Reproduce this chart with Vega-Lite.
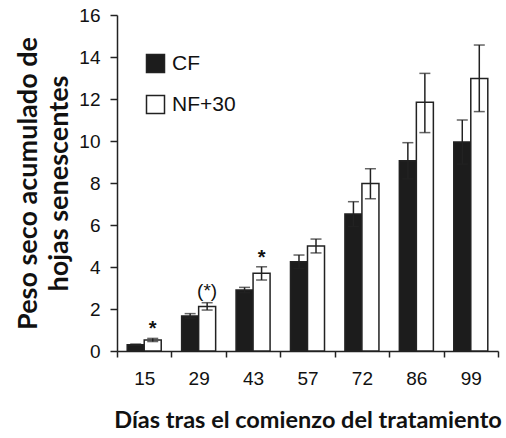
{
  "$schema": "https://vega.github.io/schema/vega-lite/v6.json",
  "width": 381,
  "height": 336,
  "autosize": {"type": "none"},
  "padding": {"left": 117, "top": 15, "right": 8, "bottom": 87},
  "background": "white",
  "config": {
    "view": {"stroke": null},
    "font": "Liberation Sans",
    "axis": {
      "domainColor": "#222",
      "domainWidth": 1.5,
      "tickColor": "#222",
      "tickWidth": 1.5,
      "labelColor": "#111",
      "labelFont": "Liberation Sans",
      "labelFontSize": 19,
      "titleFont": "Lato",
      "titleFontWeight": "bold",
      "titleFontSize": 24,
      "titleColor": "#111",
      "grid": false
    }
  },
  "data": {
    "values": [
      {"day": 15, "group": "CF", "mean": 0.3, "lo": 0.27, "hi": 0.33, "sig": ""},
      {"day": 15, "group": "NF+30", "mean": 0.52, "lo": 0.45, "hi": 0.6, "sig": "*"},
      {"day": 29, "group": "CF", "mean": 1.67, "lo": 1.56, "hi": 1.78, "sig": ""},
      {"day": 29, "group": "NF+30", "mean": 2.12, "lo": 1.95, "hi": 2.3, "sig": "(*)"},
      {"day": 43, "group": "CF", "mean": 2.9, "lo": 2.77, "hi": 3.03, "sig": ""},
      {"day": 43, "group": "NF+30", "mean": 3.7, "lo": 3.38, "hi": 4.01, "sig": "*"},
      {"day": 57, "group": "CF", "mean": 4.25, "lo": 3.93, "hi": 4.57, "sig": ""},
      {"day": 57, "group": "NF+30", "mean": 5.0, "lo": 4.67, "hi": 5.33, "sig": ""},
      {"day": 72, "group": "CF", "mean": 6.52, "lo": 5.93, "hi": 7.11, "sig": ""},
      {"day": 72, "group": "NF+30", "mean": 7.98, "lo": 7.25, "hi": 8.68, "sig": ""},
      {"day": 86, "group": "CF", "mean": 9.06, "lo": 8.2, "hi": 9.92, "sig": ""},
      {"day": 86, "group": "NF+30", "mean": 11.84, "lo": 10.4, "hi": 13.22, "sig": ""},
      {"day": 99, "group": "CF", "mean": 9.95, "lo": 8.9, "hi": 11.0, "sig": ""},
      {"day": 99, "group": "NF+30", "mean": 12.98, "lo": 11.4, "hi": 14.57, "sig": ""}
    ]
  },
  "encoding": {
    "x": {
      "field": "day",
      "type": "ordinal",
      "scale": {"paddingInner": 0, "paddingOuter": 0},
      "axis": {
        "title": "Días tras el comienzo del tratamiento",
        "titleFontSize": 23.5,
        "labelAngle": 0,
        "tickBand": "extent",
        "tickSize": 6,
        "labelPadding": 12,
        "titlePadding": 20
      }
    },
    "xOffset": {
      "field": "group",
      "type": "nominal",
      "sort": ["CF", "NF+30"],
      "scale": {"paddingOuter": 0.6, "paddingInner": 0}
    }
  },
  "layer": [
    {
      "mark": {"type": "bar", "stroke": "#222", "strokeWidth": 1.5},
      "encoding": {
        "y": {
          "field": "mean",
          "type": "quantitative",
          "scale": {"domain": [0, 16], "nice": false},
          "axis": {
            "title": ["Peso seco acumulado de", "hojas senescentes"],
            "titleFontSize": 27,
            "titleLineHeight": 31,
            "values": [0, 2, 4, 6, 8, 10, 12, 14, 16],
            "tickSize": 7,
            "labelPadding": 10,
            "titlePadding": 5
          }
        },
        "fill": {
          "field": "group",
          "type": "nominal",
          "sort": ["CF", "NF+30"],
          "scale": {"range": ["#1c1c1c", "#ffffff"]},
          "legend": {
            "title": null,
            "orient": "none",
            "legendX": 28,
            "legendY": 38,
            "symbolType": "square",
            "symbolSize": 324,
            "symbolStrokeColor": "#222",
            "symbolStrokeWidth": 1.5,
            "labelFont": "Liberation Sans",
            "labelFontSize": 21,
            "labelColor": "#111",
            "labelOffset": 6,
            "rowPadding": 16
          }
        }
      }
    },
    {
      "mark": {"type": "rule", "color": "#222", "strokeWidth": 1.5},
      "encoding": {
        "y": {"field": "lo", "type": "quantitative"},
        "y2": {"field": "hi"}
      }
    },
    {
      "mark": {"type": "tick", "color": "#222", "thickness": 1.5, "size": 11},
      "encoding": {"y": {"field": "hi", "type": "quantitative"}}
    },
    {
      "mark": {"type": "tick", "color": "#222", "thickness": 1.5, "size": 11},
      "encoding": {"y": {"field": "lo", "type": "quantitative"}}
    },
    {
      "transform": [{"filter": "datum.sig == '*'"}],
      "mark": {"type": "text", "baseline": "bottom", "dy": 1, "fontSize": 20, "fontWeight": "bold", "font": "Liberation Sans", "color": "#111"},
      "encoding": {
        "y": {"field": "hi", "type": "quantitative"},
        "text": {"field": "sig"}
      }
    },
    {
      "transform": [{"filter": "datum.sig == '(*)'"}],
      "mark": {"type": "text", "baseline": "bottom", "dy": -2, "fontSize": 19, "font": "Liberation Sans", "color": "#111"},
      "encoding": {
        "y": {"field": "hi", "type": "quantitative"},
        "text": {"field": "sig"}
      }
    }
  ]
}
